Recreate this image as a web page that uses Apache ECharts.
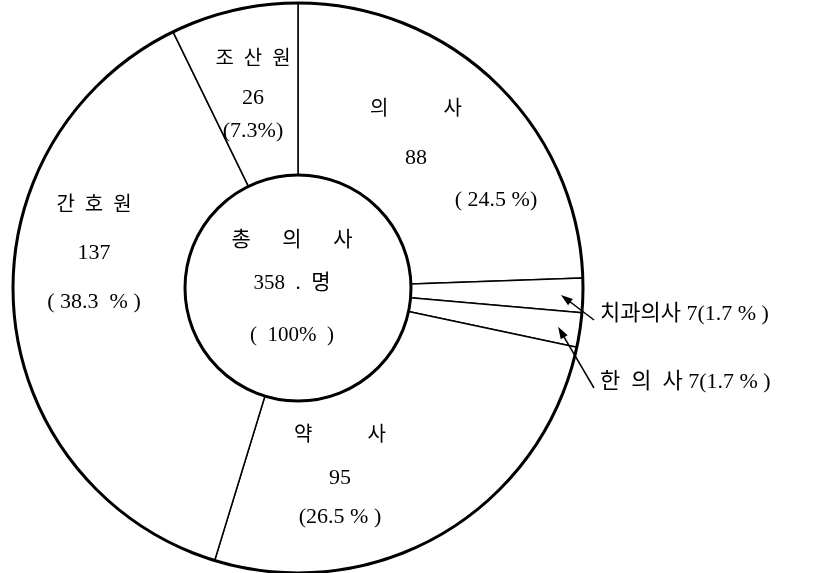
<!DOCTYPE html>
<html lang="ko">
<head>
  <meta charset="UTF-8">
  <title>총 의사 358명 구성</title>
  <script src="https://cdn.jsdelivr.net/npm/echarts@6/dist/echarts.min.js"></script>
  <style>html, body { margin: 0; background: #fff; }</style>
</head>
<body>
  <div id="main" style="width: 832px; height: 573px;"></div>

  <script>
    // values as printed on the figure
    const names = ['의사', '치과의사', '한의사', '약사', '간호원', '조산원'];
    const shownNames = ['의           사', '치과의사', '한  의  사', '약           사', '간  호  원', '조  산  원'];
    const counts = [88, 7, 7, 95, 137, 26];
    const percentLabels = ['( 24.5 %)', '(1.7 % )', '(1.7 % )', '(26.5 % )', '( 38.3  % )', '(7.3%)'];
    const totalLines = ['총      의      사', '358  .  명', '(  100%  )'];

    const FONT = "'Liberation Serif', 'Noto Sans CJK KR', serif";
    const outsideItems = [1, 2];

    const myChart = echarts.init(document.getElementById('main'));

    // label placement: x centre, first line y, line heights (inside labels)
    const insideSpots = {
      0: { x: 416, first: 110, lh: [52, 44, 40], pad: 160 },
      3: { x: 340, first: 436, lh: [44, 40, 38], pad: 0 },
      4: { x: 94, first: 206, lh: [46, 48, 50], pad: 0 },
      5: { x: 253, first: 60, lh: [40, 36, 30], pad: 0 }
    };
    // outside labels: left x, centre y
    const outsideSpots = { 1: { x: 600, y: 314 }, 2: { x: 600, y: 382 } };

    function insideLabel(i) {
      const s = insideSpots[i];
      return {
        formatter: '{n|' + shownNames[i] + '}\n{v|' + counts[i] + '}\n{p|' + percentLabels[i] + '}',
        rich: {
          n: { fontFamily: FONT, fontSize: 20, color: '#000', lineHeight: s.lh[0] },
          v: { fontFamily: FONT, fontSize: 22, color: '#000', lineHeight: s.lh[1] },
          p: { fontFamily: FONT, fontSize: 22, color: '#000', lineHeight: s.lh[2], padding: [0, 0, 0, s.pad] }
        }
      };
    }

    const pieData = names.map((n, i) => ({
      name: n,
      value: counts[i],
      label: outsideItems.includes(i)
        ? {
            formatter: shownNames[i] + ' ' + counts[i] + percentLabels[i],
            fontFamily: FONT,
            fontSize: 22,
            color: '#000'
          }
        : insideLabel(i)
    }));

    const option = {
      backgroundColor: '#fff',
      animation: false,
      series: [{
        type: 'pie',
        center: [298, 288],
        radius: [113, 285],
        startAngle: 90,
        clockwise: true,
        silent: true,
        avoidLabelOverlap: false,
        itemStyle: { color: '#fff', borderColor: '#000', borderWidth: 1.5 },
        label: { show: true, position: 'inside', color: '#000' },
        labelLine: { show: false },
        labelLayout: function (params) {
          const i = params.dataIndex;
          if (outsideSpots[i]) {
            return { x: outsideSpots[i].x, y: outsideSpots[i].y, align: 'left', verticalAlign: 'middle' };
          }
          const s = insideSpots[i];
          const total = s.lh[0] + s.lh[1] + s.lh[2];
          const cy = s.first - s.lh[0] / 2 + total / 2;
          return { x: s.x, y: cy, align: 'center', verticalAlign: 'middle' };
        },
        data: pieData
      }]
    };

    myChart.setOption(option);

    // rims, centre text and arrows, taken from the pie's own layout
    const seriesData = myChart.getModel().getSeriesByIndex(0).getData();
    const lay0 = seriesData.getItemLayout(0);
    const cx = lay0.cx, cy = lay0.cy;
    const graphics = [
      { type: 'circle', silent: true, z: 10, shape: { cx: cx, cy: cy, r: lay0.r }, style: { fill: 'none', stroke: '#000', lineWidth: 3 } },
      { type: 'circle', silent: true, z: 10, shape: { cx: cx, cy: cy, r: lay0.r0 }, style: { fill: 'none', stroke: '#000', lineWidth: 3 } }
    ];

    const centreOffsets = [-48, -5, 47];
    totalLines.forEach((t, k) => {
      graphics.push({
        type: 'text', silent: true, z: 10, x: cx - 6, y: cy + centreOffsets[k],
        style: { text: t, font: '21px ' + FONT, fill: '#000', align: 'center', verticalAlign: 'middle' }
      });
    });

    outsideItems.forEach(i => {
      const lay = seriesData.getItemLayout(i);
      const mid = (lay.startAngle + lay.endAngle) / 2;
      const tip = [cx + (lay.r - 22) * Math.cos(mid), cy + (lay.r - 22) * Math.sin(mid)];
      const tail = [outsideSpots[i].x - 6, outsideSpots[i].y + 6];
      const len = Math.hypot(tip[0] - tail[0], tip[1] - tail[1]);
      const d = [(tip[0] - tail[0]) / len, (tip[1] - tail[1]) / len];
      const nrm = [-d[1], d[0]];
      graphics.push({
        type: 'line', silent: true, z: 10,
        shape: { x1: tail[0], y1: tail[1], x2: tip[0] - d[0] * 6, y2: tip[1] - d[1] * 6 },
        style: { stroke: '#000', lineWidth: 1.5 }
      });
      graphics.push({
        type: 'polygon', silent: true, z: 10,
        shape: {
          points: [
            tip,
            [tip[0] - d[0] * 12 + nrm[0] * 4, tip[1] - d[1] * 12 + nrm[1] * 4],
            [tip[0] - d[0] * 12 - nrm[0] * 4, tip[1] - d[1] * 12 - nrm[1] * 4]
          ]
        },
        style: { fill: '#000' }
      });
    });

    myChart.setOption({ graphic: graphics });
  </script>
</body>
</html>
